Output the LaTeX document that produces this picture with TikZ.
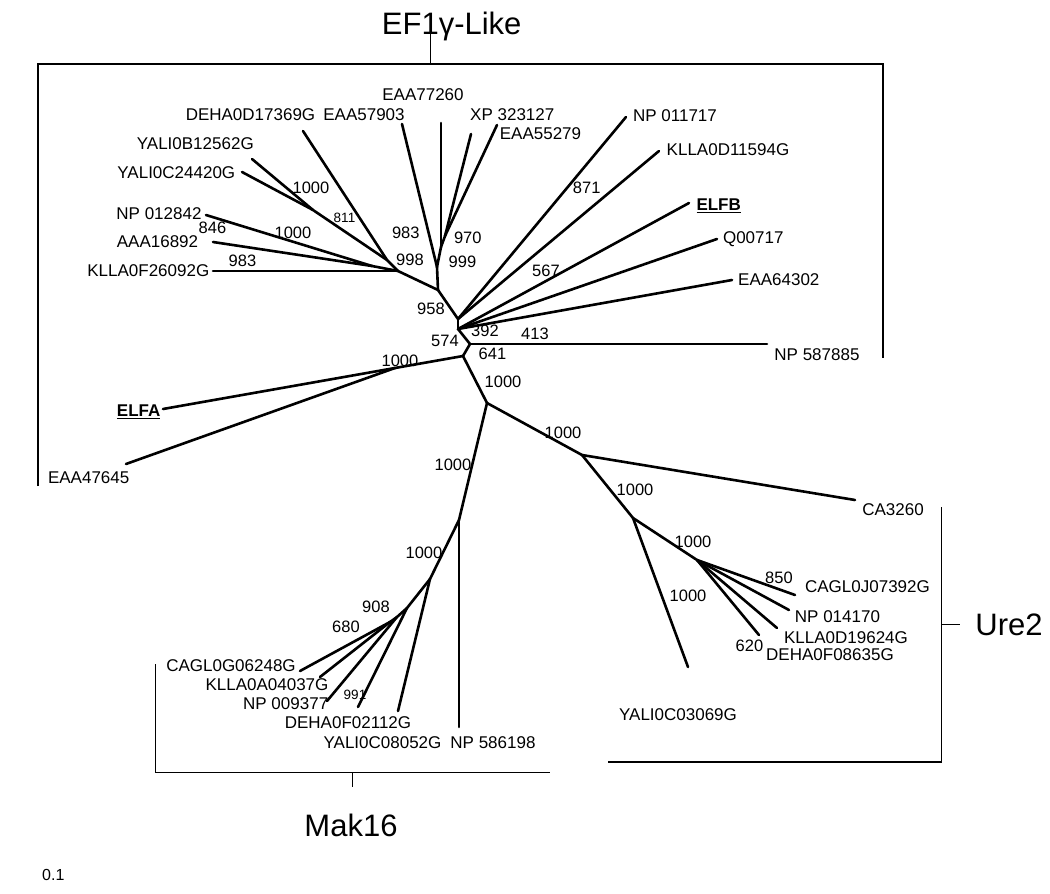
\documentclass[tikz,border=0pt]{standalone}
\usepackage{fontspec}
\setmainfont{Liberation Sans}
\usetikzlibrary{positioning}
\tikzset{
  branch/.style={line width=2.6pt, line cap=round},
  bracket/.style={line width=1.3pt},
  boot/.style={font=\fontsize{16.5}{18}\selectfont},
  smallboot/.style={font=\fontsize{13.5}{15}\selectfont},
  clade/.style={font=\fontsize{31}{34}\selectfont},
}

\begin{document}
\begin{tikzpicture}[x=1pt,y=-1pt,every node/.style={font=\fontsize{17}{20}\selectfont,inner sep=0pt}]
\useasboundingbox (0,0) rectangle (1050,894);
% inner nodes of the tree
\coordinate (ny)   at (313,210);
\coordinate (n811) at (387,260);
\coordinate (n846) at (372,266);
\coordinate (n998) at (398,271);
\coordinate (n970) at (445,236);
\coordinate (n999) at (441,247);
\coordinate (n983) at (437,267);
\coordinate (n958) at (438,290);
\coordinate (nb)   at (458,319);
\coordinate (nc)   at (458,329);
\coordinate (nd)   at (470,344);
\coordinate (ne)   at (463,356);
\coordinate (ng)   at (395,368);
\coordinate (nf)   at (487,403);
\coordinate (nh)   at (582,455);
\coordinate (ni)   at (633,518);
\coordinate (nj)   at (697,560);
\coordinate (nk)   at (459,520);
\coordinate (nl)   at (430,579);
\coordinate (nm)   at (407,608);
\coordinate (no)   at (397,617);
\coordinate (nn)   at (390,622);
% leaf ends
\coordinate (tDEHAd)    at (303,131);
\coordinate (tYALIb)    at (252,159);
\coordinate (tYALIc)    at (242,172);
\coordinate (tNPa)      at (206,215);
\coordinate (tAAA)      at (213,242);
\coordinate (tKLLAf)    at (213,271);
\coordinate (tEAAa)     at (402,124);
\coordinate (tEAAb)     at (441,123);
\coordinate (tXP)       at (471,134);
\coordinate (tEAAc)     at (497,125);
\coordinate (tNPb)      at (626,117);
\coordinate (tKLLAd)    at (659,151);
\coordinate (tELFB)     at (689,203);
\coordinate (tQ)        at (717,239);
\coordinate (tEAAd)     at (732,280);
\coordinate (tNPc)      at (767,344);
\coordinate (tELFA)     at (163,409);
\coordinate (tEAAe)     at (126,464);
\coordinate (tCA)       at (855,500);
\coordinate (tYALIu)    at (688,667);
\coordinate (tCAGLj)    at (795,595);
\coordinate (tNPd)      at (789,610);
\coordinate (tKLLAu)    at (777,628);
\coordinate (tDEHAu)    at (759,635);
\coordinate (tCAGLg)    at (300,671);
\coordinate (tKLLAm)    at (320,677);
\coordinate (tNPe)      at (327,701);
\coordinate (tDEHAm)    at (358,707);
\coordinate (tYALIm)    at (398,711);
\coordinate (tNPf)      at (459,727);
% branches
\foreach \a/\b in {n958/n998, n998/tKLLAf, n998/n846, n846/tNPa, n846/tAAA,
    n998/n811, n811/tDEHAd, n811/ny, ny/tYALIb, ny/tYALIc,
    n958/n983, n983/tEAAa, n983/n999, n999/tEAAb, n999/n970, n970/tXP, n970/tEAAc,
    n958/nb, nb/tNPb, nb/tKLLAd, nb/nc, nc/tELFB, nc/tQ, nc/tEAAd,
    nc/nd, nd/tNPc, nd/ne, ne/ng, ng/tELFA, ng/tEAAe, ne/nf,
    nf/nh, nh/tCA, nh/ni, ni/tYALIu, ni/nj, nj/tCAGLj, nj/tNPd, nj/tKLLAu, nj/tDEHAu,
    nf/nk, nk/tNPf, nk/nl, nl/tYALIm, nl/nm, nm/tDEHAm, nm/no, no/tNPe, no/nn,
    nn/tCAGLg, nn/tKLLAm}
  \draw[branch] (\a) -- (\b);
% leaf names
\foreach \n/\x/\y/\t in {lDEHAd/250.5/115/DEHA0D17369G, lEAAb/423/95/EAA77260,
    lEAAa/364/115/EAA57903, lXP/512.3/115/XP 323127, lEAAc/540.5/133.3/EAA55279,
    lYALIb/195.3/144/YALI0B12562G, lYALIc/176.3/173/YALI0C24420G,
    lNPa/159/213.3/NP 012842, lAAA/157.5/241.7/AAA16892, lKLLAf/148.3/270.5/KLLA0F26092G,
    lNPb/675/116/NP 011717, lKLLAd/728/150/KLLA0D11594G, lQ/753.3/239/Q00717,
    lEAAd/778.8/280/EAA64302, lNPc/817/355/NP 587885, lEAAe/88.7/478/EAA47645,
    lCA/893/510/CA3260, lCAGLj/867.5/587/CAGL0J07392G, lNPd/837.5/617/NP 014170,
    lKLLAu/846/638/KLLA0D19624G, lDEHAu/830/655/DEHA0F08635G, lYALIu/678/715/YALI0C03069G,
    lCAGLg/231/666/CAGL0G06248G, lKLLAm/267/685/KLLA0A04037G, lNPe/285.7/703.7/NP 009377,
    lDEHAm/348/722.5/DEHA0F02112G, lYALIm/382.5/742.5/YALI0C08052G, lNPf/493/742.5/NP 586198}
  \node (\n) at (\x,\y) {\t};
\node[anchor=base] (lELFB) at (718.7,210.7) {\underline{\textbf{ELFB}}};
\node[anchor=base] (lELFA) at (138.7,416.7) {\underline{\textbf{ELFA}}};
% bootstrap values
\foreach \x/\y/\v [count=\i] in {212.5/228.3/846, 242.5/261/983, 293/233.3/1000,
    311/188.3/1000, 405.8/233.3/983, 410/260.3/998, 467.8/238.3/970, 462.5/261.7/999,
    431/308.5/958, 586.7/188.3/871, 546/271/567, 485/331/392, 535/334/413, 445/341/574,
    492.5/354/641, 400/361/1000, 503/382/1000, 563/433/1000, 635/490/1000,
    693/542/1000, 688/596/1000, 779/577.5/850, 749.5/646/620, 453/465/1000,
    424/553/1000, 376/607/908, 346/627/680}
  \node[boot] (b\i) at (\x,\y) {\v};
\node[smallboot] (b811) at (344.5,217.5) {811};
\node[smallboot] (b991) at (355,695) {991};
% clade brackets
\draw[bracket] (38,486) -- (38,64) -- (883,64) -- (883,358);
\draw[bracket] (430.7,64) -- (430.7,33);
\node[clade,anchor=base] (ef) at (451.7,34.3) {EF1γ-Like};
\draw[bracket] (941.7,507) -- (941.7,762) -- (608,762);
\draw[bracket] (941.7,624.3) -- (960,624.3);
\node[clade] (ure) at (1009,625) {Ure2};
\draw[bracket] (155.7,664) -- (155.7,772.7) -- (550,772.7);
\draw[bracket] (352.3,772.7) -- (352.3,787);
\node[clade] (mak) at (351,825) {Mak16};
% scale
\node[font=\fontsize{16}{18}\selectfont] (scale) at (53.3,875) {0.1};
\end{tikzpicture}
\end{document}
